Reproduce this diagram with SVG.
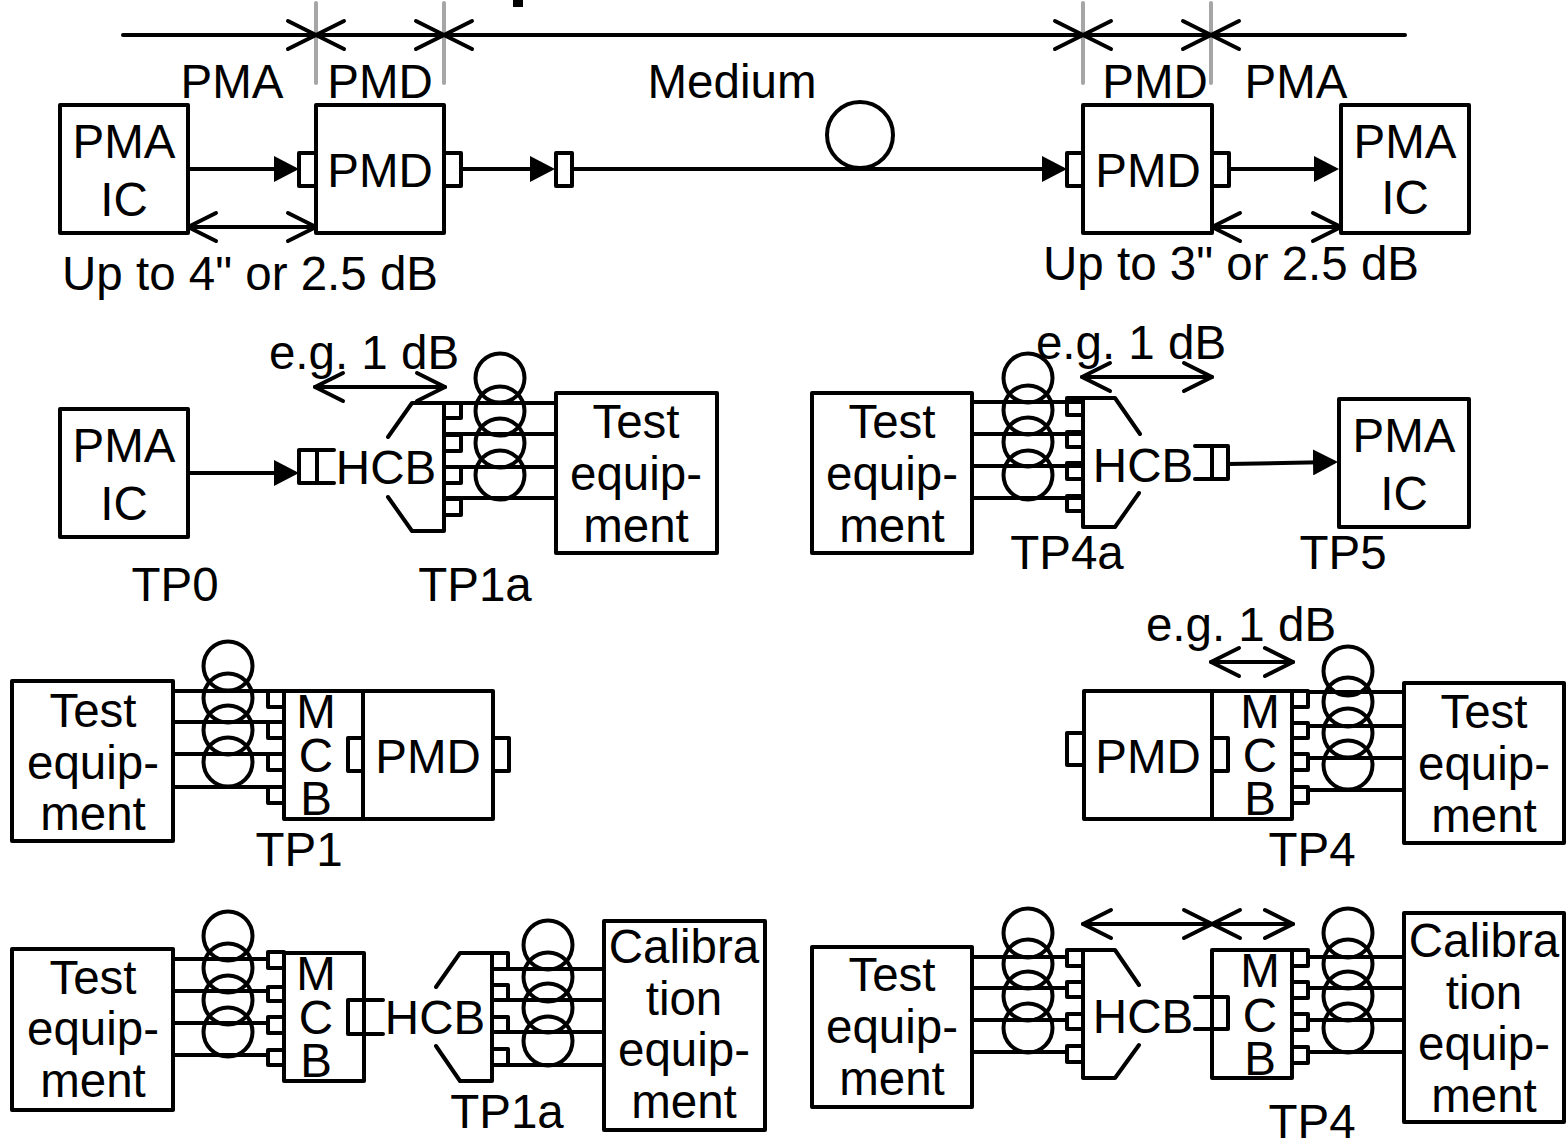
<svg xmlns="http://www.w3.org/2000/svg" width="1568" height="1139" viewBox="0 0 1568 1139">
<style>
rect,path,circle,line{fill:none;stroke:#000;stroke-width:4;stroke-linejoin:round;stroke-linecap:round}
text{font-family:"Liberation Sans",Arial,sans-serif;font-size:47.5px;fill:#000;text-anchor:middle}
.grey{stroke:#a6a6a6}
.solid{marker-end:url(#solid)}
.both{marker-start:url(#open);marker-end:url(#open)}
.left{marker-start:url(#open)}
.right{marker-end:url(#open)}
</style>
<defs>
<marker id="solid" markerUnits="userSpaceOnUse" markerWidth="26" markerHeight="26" viewBox="0 0 26 26" refX="20" refY="13" orient="auto"><path d="M0 0L25 13L0 26Z" style="fill:#000;stroke:none"/></marker>
<marker id="open" markerUnits="userSpaceOnUse" markerWidth="36" markerHeight="36" viewBox="0 0 36 36" refX="32" refY="18" orient="auto-start-reverse"><path d="M4 4L32 18L4 32"/></marker>
</defs>
<rect x="513" y="0" width="10" height="7" style="fill:#000;stroke:none"/>
<g id="connectors">
<line class="grey" x1="316" y1="3" x2="316" y2="83"/><line class="grey" x1="444" y1="3" x2="444" y2="83"/>
<line class="grey" x1="1083" y1="3" x2="1083" y2="83"/><line class="grey" x1="1211" y1="3" x2="1211" y2="83"/>
<line class="right" x1="123" y1="35" x2="316" y2="35"/><line class="both" x1="316" y1="35" x2="444" y2="35"/>
<line class="both" x1="444" y1="35" x2="1083" y2="35"/><line class="both" x1="1083" y1="35" x2="1211" y2="35"/>
<line class="left" x1="1211" y1="35" x2="1405" y2="35"/>
<line class="solid" x1="188" y1="169" x2="294" y2="169"/><line class="solid" x1="461" y1="169" x2="550" y2="169"/>
<line class="solid" x1="572" y1="169" x2="1062" y2="169"/><line class="solid" x1="1229" y1="169" x2="1334" y2="169"/>
<line class="both" x1="188" y1="227" x2="316" y2="227"/><line class="both" x1="1212" y1="227" x2="1341" y2="227"/>
<line class="solid" x1="188" y1="473" x2="294" y2="473"/><line class="both" x1="315" y1="387" x2="445" y2="387"/>
<line class="both" x1="1082" y1="377" x2="1212" y2="377"/><line class="solid" x1="1228" y1="464" x2="1333" y2="462"/>
<line class="both" x1="1211" y1="662" x2="1293" y2="662"/>
<line class="both" x1="1083" y1="924" x2="1212" y2="924"/><line class="both" x1="1212" y1="924" x2="1293" y2="924"/>
<path d="M444 403H556M444 434H556M444 467H556M444 498H556"/>
<path d="M972 402H1083M972 434H1083M972 466H1083M972 498H1083"/>
<path d="M173 691H284M173 722H284M173 754H284M173 787H284"/>
<path d="M1308 692H1404M1308 726H1404M1308 758H1404M1308 790H1404"/>
<path d="M173 959H268M173 991H268M173 1023H268M173 1055H268"/>
<path d="M492 969H604M492 1000H604M492 1032H604M492 1065H604"/>
<path d="M972 957H1067M972 988H1067M972 1020H1067M972 1052H1067"/>
<path d="M1308 957H1404M1308 988H1404M1308 1020H1404M1308 1052H1404"/>
</g>
<g id="labels">
<text x="232" y="98">PMA</text><text x="380" y="98">PMD</text><text x="732" y="98">Medium</text><text x="1155" y="98">PMD</text><text x="1296" y="98">PMA</text>
<text x="250" y="290">Up to 4" or 2.5 dB</text><text x="1231" y="280">Up to 3" or 2.5 dB</text>
<text x="364" y="369">e.g. 1 dB</text><text x="1131" y="359">e.g. 1 dB</text><text x="1241" y="641">e.g. 1 dB</text>
<text x="175" y="601">TP0</text><text x="475" y="601">TP1a</text><text x="1067" y="569">TP4a</text><text x="1343" y="569">TP5</text>
<text x="299" y="866">TP1</text><text x="1312" y="866">TP4</text><text x="507" y="1128">TP1a</text><text x="1312" y="1138">TP4</text>
</g>
<g id="pma-ic-1"><rect x="60" y="105" width="128" height="128"/><text x="124" y="158">PMA</text><text x="124" y="216">IC</text></g>
<g id="pmd-1"><rect x="316" y="105" width="128" height="128"/><rect x="299" y="153" width="17" height="33"/><rect x="444" y="153" width="17" height="33"/><text x="380" y="187">PMD</text></g>
<g id="connector-1"><rect x="556" y="153" width="16" height="33"/></g>
<g id="fiber-1"><circle cx="860" cy="135" r="33"/></g>
<g id="pmd-2"><rect x="1083" y="105" width="129" height="128"/><rect x="1067" y="153" width="16" height="33"/><rect x="1212" y="153" width="17" height="33"/><text x="1148" y="187">PMD</text></g>
<g id="pma-ic-2"><rect x="1341" y="105" width="128" height="128"/><text x="1405" y="158">PMA</text><text x="1405" y="214">IC</text></g>

<g id="pma-ic-3"><rect x="60" y="409" width="128" height="128"/><text x="124" y="462">PMA</text><text x="124" y="520">IC</text></g>
<g id="hcb-1"><path d="M334 450H299V483H334M317 450V483"/><path d="M388 437L412 403H444V531H412L388 497"/><path d="M444 403H461V418H444M444 435H461V451H444M444 467H461V483H444M444 499H461V515H444"/><text x="386" y="484">HCB</text></g>
<g id="fiber-2"><circle cx="500" cy="378" r="24.5"/><circle cx="500" cy="411" r="24.5"/><circle cx="500" cy="443" r="24.5"/><circle cx="500" cy="475" r="24.5"/></g>
<g id="test-1"><rect x="556" y="393" width="161" height="160"/><text x="636" y="438">Test</text><text x="636" y="490">equip-</text><text x="636" y="542">ment</text></g>

<g id="test-2"><rect x="812" y="393" width="160" height="160"/><text x="892" y="438">Test</text><text x="892" y="490">equip-</text><text x="892" y="542">ment</text></g>
<g id="fiber-3"><circle cx="1028" cy="378" r="24.5"/><circle cx="1028" cy="410" r="24.5"/><circle cx="1028" cy="442" r="24.5"/><circle cx="1028" cy="475" r="24.5"/></g>
<g id="hcb-2"><path d="M1083 398H1067V415H1083M1083 432H1067V447H1083M1083 463H1067V479H1083M1083 496H1067V511H1083"/><path d="M1140 434L1115 398H1083V527H1115L1139 493"/><path d="M1195 446H1228V479H1195M1212 446V479"/><text x="1143" y="482">HCB</text></g>
<g id="pma-ic-4"><rect x="1339" y="399" width="130" height="128"/><text x="1404" y="452">PMA</text><text x="1404" y="510">IC</text></g>

<g id="test-3"><rect x="12" y="681" width="161" height="160"/><text x="93" y="727">Test</text><text x="93" y="779">equip-</text><text x="93" y="830">ment</text></g>
<g id="fiber-4"><circle cx="228" cy="666" r="24.5"/><circle cx="228" cy="698" r="24.5"/><circle cx="228" cy="730" r="24.5"/><circle cx="228" cy="762" r="24.5"/></g>
<g id="mcb-1"><rect x="284" y="691" width="79" height="128"/><path d="M268 691V707H284M268 722V738H284M268 754V770H284M268 787V803H284"/><rect x="348" y="738" width="15" height="33"/><text x="316" y="728">M</text><text x="316" y="772">C</text><text x="316" y="815">B</text></g>
<g id="pmd-3"><rect x="363" y="691" width="130" height="128"/><rect x="493" y="738" width="16" height="33"/><text x="428" y="773">PMD</text></g>

<g id="pmd-4"><rect x="1084" y="691" width="128" height="128"/><rect x="1067" y="733" width="17" height="32"/><rect x="1212" y="738" width="16" height="33"/><text x="1148" y="773">PMD</text></g>
<g id="mcb-2"><rect x="1212" y="691" width="80" height="128"/><path d="M1292 691H1308V707H1292M1292 723H1308V738H1292M1292 754H1308V770H1292M1292 787H1308V803H1292"/><text x="1260" y="728">M</text><text x="1260" y="772">C</text><text x="1260" y="815">B</text></g>
<g id="fiber-5"><circle cx="1348" cy="671" r="24.5"/><circle cx="1348" cy="702" r="24.5"/><circle cx="1348" cy="733" r="24.5"/><circle cx="1348" cy="765" r="24.5"/></g>
<g id="test-4"><rect x="1404" y="683" width="160" height="160"/><text x="1484" y="728">Test</text><text x="1484" y="780">equip-</text><text x="1484" y="832">ment</text></g>

<g id="test-5"><rect x="12" y="949" width="161" height="161"/><text x="93" y="994">Test</text><text x="93" y="1045">equip-</text><text x="93" y="1097">ment</text></g>
<g id="fiber-6"><circle cx="228" cy="936" r="24.5"/><circle cx="228" cy="968" r="24.5"/><circle cx="228" cy="1000" r="24.5"/><circle cx="228" cy="1032" r="24.5"/></g>
<g id="mcb-3"><rect x="284" y="953" width="80" height="128"/><path d="M284 952H268V968H284M284 987H268V1001H284M284 1017H268V1033H284M284 1050H268V1065H284"/><path d="M383 1000H348V1034H383M364 1000V1034"/><text x="316" y="990">M</text><text x="316" y="1034">C</text><text x="316" y="1077">B</text></g>
<g id="hcb-3"><path d="M436 987L460 953H492V1081H460L436 1046"/><path d="M492 953H508V969H492M492 985H508V1000H492M492 1017H508V1032H492M492 1049H508V1065H492"/><text x="435" y="1034">HCB</text></g>
<g id="fiber-7"><circle cx="548" cy="945" r="24.5"/><circle cx="548" cy="977" r="24.5"/><circle cx="548" cy="1008" r="24.5"/><circle cx="548" cy="1041" r="24.5"/></g>
<g id="cal-1"><rect x="604" y="921" width="161" height="209"/><text x="684" y="963">Calibra</text><text x="684" y="1015">tion</text><text x="684" y="1066">equip-</text><text x="684" y="1118">ment</text></g>

<g id="test-6"><rect x="812" y="947" width="160" height="160"/><text x="892" y="991">Test</text><text x="892" y="1043">equip-</text><text x="892" y="1095">ment</text></g>
<g id="fiber-8"><circle cx="1028" cy="933" r="24.5"/><circle cx="1028" cy="964" r="24.5"/><circle cx="1028" cy="996" r="24.5"/><circle cx="1028" cy="1028" r="24.5"/></g>
<g id="hcb-4"><path d="M1083 950H1067V966H1083M1083 982H1067V997H1083M1083 1014H1067V1029H1083M1083 1046H1067V1062H1083"/><path d="M1139 985L1115 950H1083V1078H1115L1139 1045"/><text x="1143" y="1033">HCB</text></g>
<g id="mcb-4"><rect x="1212" y="950" width="80" height="128"/><path d="M1195 997H1228V1029H1195"/><path d="M1292 950H1308V966H1292M1292 982H1308V998H1292M1292 1014H1308V1030H1292M1292 1047H1308V1063H1292"/><text x="1260" y="987">M</text><text x="1260" y="1032">C</text><text x="1260" y="1075">B</text></g>
<g id="fiber-9"><circle cx="1348" cy="933" r="24.5"/><circle cx="1348" cy="964" r="24.5"/><circle cx="1348" cy="996" r="24.5"/><circle cx="1348" cy="1028" r="24.5"/></g>
<g id="cal-2"><rect x="1404" y="913" width="160" height="209"/><text x="1484" y="957">Calibra</text><text x="1484" y="1009">tion</text><text x="1484" y="1060">equip-</text><text x="1484" y="1112">ment</text></g>
</svg>
